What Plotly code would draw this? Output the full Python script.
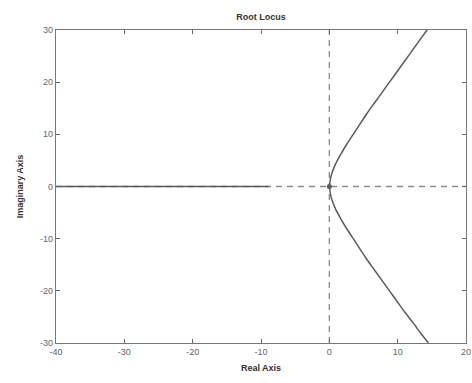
import plotly.graph_objects as go

# Real-axis branch
real_branch_x = [-40, -8.9]
real_branch_y = [0, 0]

# Upper complex branch
upper_x = [0, 0.25, 0.8, 1.6, 2.5, 3.5, 4.5, 5.5, 6.6, 7.7, 8.8, 9.9, 11.0, 12.1, 13.2, 14.3]
upper_y = [0, 2, 4, 6, 8, 10, 12, 14, 16, 18, 20, 22, 24, 26, 28, 30]

# Lower complex branch
lower_x = [0, 0.25, 0.8, 1.6, 2.5, 3.5, 4.5, 5.5, 6.6, 7.7, 8.8, 9.9, 11.0, 12.2, 13.3, 14.5]
lower_y = [0, -2, -4, -6, -8, -10, -12, -14, -16, -18, -20, -22, -24, -26, -28, -30]

xticks = [-40, -30, -20, -10, 0, 10, 20]
yticks = [-30, -20, -10, 0, 10, 20, 30]

LC = "#5a5a5a"
fig = go.Figure()
# dashed axes lines
fig.add_trace(go.Scatter(x=[-40, 20], y=[0, 0], mode="lines",
                         line=dict(color="#8a8a8a", width=1.3, dash="6px,5px"), hoverinfo="skip"))
fig.add_trace(go.Scatter(x=[0, 0], y=[-30, 30], mode="lines",
                         line=dict(color="#8a8a8a", width=1.3, dash="6px,5px"), hoverinfo="skip"))
for xs, ys in [(real_branch_x, real_branch_y), (upper_x, upper_y), (lower_x, lower_y)]:
    fig.add_trace(go.Scatter(x=xs, y=ys, mode="lines",
                             line=dict(color=LC, width=1.5, shape="spline", smoothing=0.6),
                             hoverinfo="skip"))
fig.add_trace(go.Scatter(x=[0], y=[0], mode="markers",
                         marker=dict(color=LC, size=5), hoverinfo="skip"))

axis_common = dict(showgrid=False, zeroline=False, ticks="inside", ticklen=4,
                   tickcolor="#666", linecolor="#777", linewidth=1.2, mirror="ticks",
                   showline=True, automargin=False,
                   tickfont=dict(family="Arial", size=9, color="#666"))
fig.update_layout(
    width=472, height=383,
    margin=dict(l=56, r=6, t=30, b=40),
    paper_bgcolor="white", plot_bgcolor="white",
    showlegend=False,
    title=dict(text="<b>Root Locus</b>", x=0.553, xanchor="center", y=0.955, yanchor="middle",
               automargin=False,
               font=dict(family="Arial", size=9, color="#333")),
    xaxis=dict(range=[-40, 20], tickvals=xticks, ticktext=[str(v) for v in xticks],
               title=dict(text="<b>Real Axis</b>", font=dict(family="Arial", size=9, color="#333"), standoff=8),
               **axis_common),
    yaxis=dict(range=[-30, 30], tickvals=yticks, ticktext=[str(v) for v in yticks],
               title=dict(text="<b>Imaginary Axis</b>", font=dict(family="Arial", size=9, color="#333"), standoff=14),
               **axis_common),
)
fig.write_html("out.html", config={"displayModeBar": False},
               post_script="document.body.style.margin='0';document.body.style.padding='0';")
